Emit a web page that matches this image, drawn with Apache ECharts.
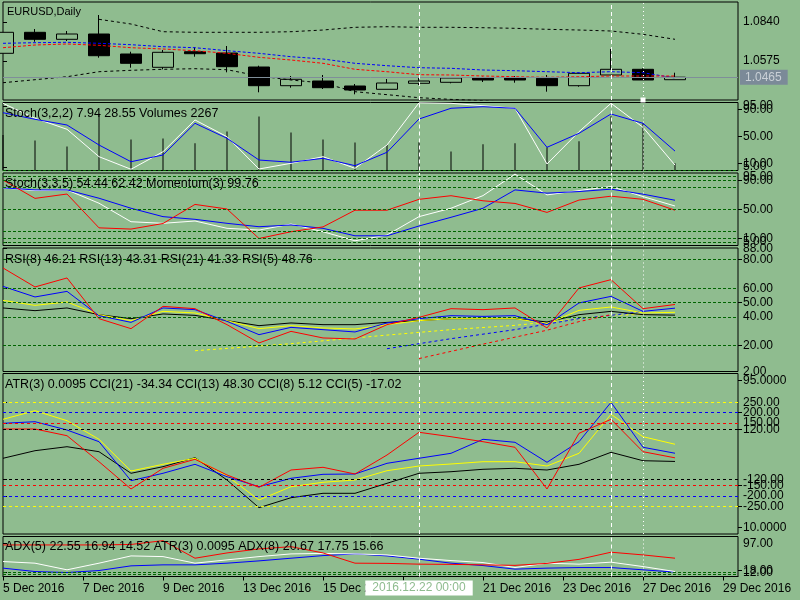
<!DOCTYPE html>
<html><head><meta charset="utf-8">
<script src="https://cdn.jsdelivr.net/npm/echarts@6/dist/echarts.min.js"></script>
<style>html,body{margin:0;padding:0;background:#8FBC8F;}#c{width:800px;height:600px;}</style>
</head><body><div id="c"></div>
<script>
// ---------- data ----------
const openP  = [1.06273,1.07700,1.07225,1.07585,1.06226,1.05322,1.06382,1.06294,1.05342,1.04072,1.04391,1.04051,1.03827,1.04235,1.04303,1.04595,1.04595,1.04574,1.04072,1.04799,1.05186,1.04479];
const closeP = [1.07700,1.07225,1.07585,1.06110,1.05594,1.06341,1.06246,1.05363,1.04072,1.04507,1.03936,1.03780,1.04255,1.04391,1.04595,1.04459,1.04459,1.04072,1.04914,1.05186,1.04459,1.04650];
const lowP   = [1.06273,1.07061,1.07109,1.05974,1.05295,1.05186,1.06042,1.04982,1.03623,1.03936,1.03847,1.03487,1.03827,1.04119,1.04235,1.04323,1.04276,1.03664,1.04004,1.04799,1.04459,1.04479];
const highP  = [1.07700,1.07924,1.07789,1.08876,1.06382,1.06497,1.06681,1.06769,1.05431,1.04731,1.04799,1.04187,1.04527,1.04663,1.04642,1.04683,1.04731,1.04799,1.04955,1.06565,1.05254,1.04955];
const bandUpper = [null,null,null,1.08583,1.08264,1.07741,1.07700,1.07700,1.07700,1.07741,1.07856,1.08040,1.08081,1.08040,1.08040,1.08013,1.07972,1.07904,1.07856,1.07789,1.07564,1.07225];
const bandLower = [1.04275,1.04479,1.04683,1.05023,1.05118,1.05186,1.05227,1.05159,1.04731,1.04459,1.04255,1.03665,1.03462,1.03258,1.03142,1.03054,1.02898,null,null,null,null,null];
const maBlue = [1.06953,1.06994,1.07021,1.06953,1.06858,1.06722,1.06654,1.06450,1.06273,1.06042,1.05886,1.05594,1.05431,1.05295,1.05254,1.05138,1.05091,1.05023,1.04955,1.05023,1.04955,1.04596];
const maRed  = [1.06654,1.06837,1.06905,1.06817,1.06654,1.06565,1.06450,1.06273,1.06001,1.05818,1.05594,1.05186,1.05023,1.04819,1.04799,1.04731,1.04683,1.04642,1.04683,1.04731,1.04731,1.04731];

const volumes = [11000,9300,7440,17570,9600,9900,8460,12090,16740,11780,9600,8680,7970,8770,5890,8150,8460,7220,9080,16830,14660,2267];
const stochAK = [98.8,76.8,60.6,20.3,1.8,27.6,74.3,49.7,2.2,10.6,20.3,3.2,37.5,99.5,98.8,95.3,91.5,9.6,57.1,98.8,63.5,7.94];
const stochAD = [85,75.3,66.9,37.5,12.9,22.8,69.4,47.4,15.4,12.1,17.9,7.1,26.8,75.7,91.5,93.8,91.5,34.1,54.7,83.1,69.4,28.55];

const stochBK = [79.5,75.8,76.7,58.3,32.8,30.6,33.8,23.7,21.3,29.6,19.0,6.5,14.4,39.8,51.4,68.8,98.5,69.8,75.8,81.3,67.5,54.44];
const stochBD = [79.5,76.7,76.7,65.2,51.4,39.8,36.1,30.6,25.9,28.3,23.7,13.4,13.4,26.9,38.9,51.4,76.7,72.2,74.4,77.7,70.8,62.42];
const momentum = [101.01,100.25,100.43,99.03,98.98,99.21,100.00,99.81,98.59,98.87,99.07,99.76,99.76,100.21,100.36,100.15,100.04,99.67,100.18,100.34,100.21,99.76];

const rsi5  = [74.25,60.99,67.27,38.87,31.89,47.45,45.85,34.68,21.91,30.01,25.40,24.70,34.68,39.78,45.85,45.15,46.34,32.38,60.29,66.09,45.85,48.76];
const rsi8  = [61.41,54.01,57.92,40.96,36.29,46.34,45.15,36.99,27.70,32.80,31.19,29.59,35.87,38.87,40.96,40.47,40.96,34.68,49.83,54.43,43.96,46.21];
const rsi13 = [51.64,48.15,50.52,41.66,37.47,43.96,42.85,37.47,31.89,33.98,32.38,31.68,34.68,37.47,38.87,38.87,38.87,35.38,44.66,47.03,42.85,43.31];
const rsi21 = [46.34,44.45,46.34,41.66,38.87,42.15,41.17,37.47,33.98,35.87,34.68,34.68,36.29,37.47,38.87,38.87,38.87,36.57,41.66,43.96,41.66,41.33];
const rsiTrendYellow = [[6,16.5],[9,21.4],[12,27.4],[14,31.2],[16,34.2],[18,38.7],[19,41.3],[20,41.7]];
const rsiTrendBlue   = [[12,17.9],[14,24.9],[16,31.2],[18,38.9],[19,41.2],[20,43.8]];
const rsiTrendRed    = [[13,11.0],[15,21.1],[17,30.8],[18,36.8],[19,41.7]];

const cci21 = [-19.2,17.3,36.5,12.5,-91.3,-59.6,-16.3,-123.6,-256.7,-208.7,-187.5,-187.5,-139.4,-91.3,-83.7,-72.1,-67.3,-75.5,-48.1,9.6,-30.8,-34.34];
const cci13 = [168.3,209.6,161.5,72.1,-80.3,-48.1,-19.2,-104.3,-219.7,-155.8,-134.6,-123.6,-78.8,-56.3,-46.6,-35.6,-35.6,-56.3,4.8,192.3,84.6,48.30];
const cci8  = [149.0,156.7,116.8,60.6,-126.9,-91.3,-48.1,-107.7,-155.8,-115.4,-96.2,-94.7,-43.3,-19.2,4.8,72.1,57.7,-38.5,60.6,250.0,33.7,5.12];
const cci5  = [121.6,121.6,89.4,-35.6,-166.8,-67.3,-24.0,-99.5,-158.7,-75.5,-62.5,-94.7,-3.4,105.8,84.6,60.6,33.7,-166.8,101.0,168.3,12.5,-17.02];

const adxRed   = [92.1,92.1,92.1,92.1,93.5,104.6,53.4,68.8,80.5,87.1,68.8,38.9,38.3,36.0,35.4,34.0,32.5,38.3,50.0,70.9,63.0,53.4];
const adxWhite = [43.6,38.9,19.5,38.9,60.1,58.1,38.9,48.5,58.1,65.9,67.4,65.9,63.0,53.4,46.5,40.7,26.1,38.9,36.0,41.8,29.0,14.5];
const adxBlue  = [24.4,14.5,11.6,17.4,31.1,34.0,34.0,38.9,45.6,53.4,61.0,65.9,60.1,50.5,38.9,31.9,21.5,24.4,26.1,26.1,19.5,12.8];

const timeTickLabels = ['5 Dec 2016','7 Dec 2016','9 Dec 2016','13 Dec 2016','15 Dec 2016','','21 Dec 2016','23 Dec 2016','27 Dec 2016','29 Dec 2016'];
const priceTicks = [1.0840, 1.0575];
const stochTicksA = [95, 80, 20, 5];
const stochTicksB = [90, 50, 10];
const stochLevels = [95, 90, 80, 50, 20, 10, 5];
const rsiTicksA = [88, 60, 40, 2];
const rsiTicksB = [80, 50, 20];
const rsiLevels = [80, 60, 50, 40, 20];
const cciTicksA = [250, 150, -120, -200];
const cciTicksB = [200, 120, -150, -250];
const atrTicks = [95, 10];
const adxTicksA = [97, 12];
const adxTicksB = [18, 6];
const adxLevels = [12, 6];
const cursorBar = 13, cursorTime = '2016.12.22 00:00';
const dashedBars = [13, 19];
const dottedBars = [20];

const titles = [
  'EURUSD,Daily',
  `Stoch(3,2,2) ${stochAK[stochAK.length-1].toFixed(2)} ${stochAD[stochAD.length-1].toFixed(2)} Volumes ${volumes[volumes.length-1]}`,
  `Stoch(3,3,5) ${stochBK[stochBK.length-1].toFixed(2)} ${stochBD[stochBD.length-1].toFixed(2)} Momentum(3) ${momentum[momentum.length-1].toFixed(2)}`,
  `RSI(8) ${rsi8[21].toFixed(2)} RSI(13) ${rsi13[21].toFixed(2)} RSI(21) ${rsi21[21].toFixed(2)} RSI(5) ${rsi5[21].toFixed(2)}`,
  `ATR(3) 0.0095 CCI(21) ${cci21[21].toFixed(2)} CCI(13) ${cci13[21].toFixed(2)} CCI(8) ${cci8[21].toFixed(2)} CCI(5) ${cci5[21].toFixed(2)}`,
  'ADX(5) 22.55 16.94 14.52 ATR(3) 0.0095 ADX(8) 20.67 17.75 15.66'
];

// ---------- chart ----------
const BG = '#8FBC8F', GREEN = '#006400', FONT = 'Liberation Sans';
const XMAX = 735 / 32;
const gridDefs = [[2,98],[102.5,68],[173,72.5],[248,123.5],[373.5,160.5],[536.5,40]];
const grids = gridDefs.map(g => ({left:3, right:62, top:g[0], height:g[1], show:true, borderColor:'#000', borderWidth:1, backgroundColor:'transparent'}));

const xAxes = grids.map((g,i) => ({
  type:'value', gridIndex:i, min:0, max:XMAX, interval:2.5, show: i === 5,
  axisLine:{show:true, lineStyle:{color:'#000'}},
  axisTick:{show:true, length:4, lineStyle:{color:'#000'}},
  splitLine:{show:false},
  axisLabel:{align:'left', margin:6, color:'#000', fontSize:12, fontFamily:FONT, showMinLabel:true, showMaxLabel:false,
    formatter: v => { const j = v/2.5; if (Math.abs(j-Math.round(j))>1e-6) return ''; return timeTickLabels[Math.round(j)] || ''; }}
}));

function yAx(grid, min, max, ticks, digits, show) {
  return {type:'value', gridIndex:grid, position:'right', min, max, show: show !== false,
    axisLine:{show:false}, splitLine:{show:false},
    axisTick:{show:true, length:4, customValues:ticks, lineStyle:{color:'#000'}},
    axisLabel:{customValues:ticks, formatter: v => Number(v).toFixed(digits), color:'#000', margin:5, fontSize:12, fontFamily:FONT,
      showMinLabel:true, showMaxLabel:true, hideOverlap:false}};
}
const yAxes = [
  yAx(0, 1.0310, 1.0976, priceTicks, 4),   // 0
  yAx(1, 0, 100, stochTicksA, 2),          // 1
  yAx(1, 0, 21080, [], 0, false),          // 2 volume
  yAx(2, 0, 100, stochTicksA, 2),          // 3
  yAx(2, 98.3, 101.3, [], 2, false),       // 4 momentum
  yAx(3, 2, 88.18, rsiTicksA, 2),          // 5
  yAx(4, -383.2, 388.5, cciTicksA, 2),     // 6
  yAx(4, 6.12, 99.17, atrTicks, 4),        // 7 ATR labels
  yAx(5, 0, 116.75, adxTicksA, 2),         // 8
  yAx(1, 0, 100, stochTicksB, 2),          // 9  extra label sets
  yAx(2, 0, 100, stochTicksB, 2),          // 10
  yAx(3, 2, 88.18, rsiTicksB, 2),          // 11
  yAx(4, -383.2, 388.5, cciTicksB, 2),     // 12
  yAx(5, 0, 116.75, adxTicksB, 2)          // 13
];

function pts(arr){ const out=[]; arr.forEach((v,i)=>{ if(v!=null) out.push([i,v]); }); return out; }
function ln(xi, yi, data, color, extra) {
  return Object.assign({type:'line', xAxisIndex:xi, yAxisIndex:yi, data, symbol:'none', showSymbol:false,
    lineStyle:{color, width:1}, itemStyle:{color}, silent:true, animation:false, z:3}, extra||{});
}
function vLineItems(){
  return dashedBars.map(b => ({xAxis:b, lineStyle:{color:'#fff', type:[4,3], width:1}}))
    .concat(dottedBars.map(b => ({xAxis:b, lineStyle:{color:'#fff', type:[1,3], width:1}})));
}
function levelItems(levels, color){ return levels.map(v => ({yAxis:v, lineStyle:{color, type:[3,2], width:1}})); }
function mark(items){ return {silent:true, symbol:'none', animation:false, precision:6, label:{show:false}, data:items}; }

const series = [];
// panel 1
series.push({type:'candlestick', xAxisIndex:0, yAxisIndex:0, barWidth:22,
  data: openP.map((o,i)=>[i,o,closeP[i],lowP[i],highP[i]]), encode:{x:0, y:[1,2,3,4]},
  itemStyle:{color:BG, color0:'#000', borderColor:'#000', borderColor0:'#000', borderWidth:1},
  silent:true, animation:false, z:2,
  markLine:{silent:true, symbol:'none', animation:false, precision:6,
    data:[{yAxis: closeP[closeP.length-1], lineStyle:{color:'#7f8e99', type:'solid', width:1},
      label:{show:true, position:'end', distance:2, formatter: p => Number(p.value).toFixed(4),
        backgroundColor:'#7b8a98', color:'#c9d0d6', padding:[2,6,1,5], fontSize:12, fontFamily:FONT}}]}
});
series.push(ln(0,0,pts(bandUpper),'#000',{lineStyle:{color:'#000',width:1,type:[3,3]}}));
series.push(ln(0,0,pts(bandLower),'#000',{lineStyle:{color:'#000',width:1,type:[3,3]}}));
series.push(ln(0,0,pts(maBlue),'#0000ff',{lineStyle:{color:'#0000ff',width:1,type:[3,2]}}));
series.push(ln(0,0,pts(maRed),'#ff0000',{lineStyle:{color:'#ff0000',width:1,type:[3,2]},
  markLine:{silent:true, animation:false, label:{show:false}, symbol:'none', precision:6,
    data: dashedBars.map(b => ({xAxis:b, lineStyle:{color:'#fff', type:[4,3], width:1}}))
      .concat(dottedBars.map(b => ({xAxis:b, symbol:['rect','rect'], symbolSize:5, lineStyle:{color:'#fff', type:[1,3], width:1}})))}}));
// panel 2
series.push({type:'bar', xAxisIndex:1, yAxisIndex:2, barWidth:1, data: pts(volumes), itemStyle:{color:'#000'}, silent:true, animation:false, z:2,
  markLine: mark(levelItems(stochLevels, GREEN).concat(vLineItems()))});
series.push(ln(1,1,pts(stochAK),'#ffffff'));
series.push(ln(1,1,pts(stochAD),'#0000ff'));
// panel 3
series.push(ln(2,3,pts(stochBK),'#ffffff',{markLine: mark(levelItems(stochLevels, GREEN).concat(vLineItems()))}));
series.push(ln(2,3,pts(stochBD),'#0000ff'));
series.push(ln(2,4,pts(momentum),'#ff0000'));
// panel 4
series.push(ln(3,5,rsiTrendYellow,'#ffff00',{lineStyle:{color:'#ffff00',width:1,type:[3,3]}, markLine: mark(levelItems(rsiLevels, GREEN).concat(vLineItems()))}));
series.push(ln(3,5,rsiTrendBlue,'#0000ff',{lineStyle:{color:'#0000ff',width:1,type:[3,3]}}));
series.push(ln(3,5,rsiTrendRed,'#ff0000',{lineStyle:{color:'#ff0000',width:1,type:[3,3]}}));
series.push(ln(3,5,pts(rsi21),'#000000'));
series.push(ln(3,5,pts(rsi13),'#ffff00'));
series.push(ln(3,5,pts(rsi8),'#0000ff'));
series.push(ln(3,5,pts(rsi5),'#ff0000'));
// panel 5
function cciLevels(v, color){ return [{yAxis:v, lineStyle:{color, type:[3,3], width:1}},{yAxis:-v, lineStyle:{color, type:[3,3], width:1}}]; }
series.push(ln(4,6,pts(cci21),'#000000',{markLine: mark(cciLevels(250,'#ffff00').concat(cciLevels(200,'#0000ff'),cciLevels(150,'#ff0000'),cciLevels(120,'#000000'),vLineItems()))}));
series.push(ln(4,6,pts(cci13),'#ffff00'));
series.push(ln(4,6,pts(cci8),'#0000ff'));
series.push(ln(4,6,pts(cci5),'#ff0000'));
// panel 6
series.push(ln(5,8,pts(adxBlue),'#0000ff',{markLine: mark(levelItems(adxLevels, GREEN).concat(vLineItems()))}));
series.push(ln(5,8,pts(adxWhite),'#ffffff'));
series.push(ln(5,8,pts(adxRed),'#ff0000'));

const titleY = [12, 113.5, 183.5, 259.5, 384.5, 546.5];
const titleX = [7, 5, 5, 5, 5, 5];
const titleSize = [11, 12.5, 12.5, 12.5, 12.5, 12.5];
const graphics = titles.map((t,i) => ({id:'t'+i, type:'text', x:titleX[i], y:titleY[i], z:50,
  style:{text:t, fill:'#000', fontSize:titleSize[i], fontFamily:FONT, verticalAlign:'middle'}}));

const chart = echarts.init(document.getElementById('c'));
chart.setOption({
  backgroundColor: BG, animation:false,
  textStyle:{fontFamily:FONT, fontSize:12},
  grid: grids, xAxis: xAxes, yAxis: yAxes, series, graphic: graphics
});
const px = chart.convertToPixel({xAxisIndex:5}, cursorBar);
chart.setOption({graphic: graphics.concat([{id:'tbox', type:'text', x:px, y:588, z:100,
  style:{text:cursorTime, fill:'#8FBC8F', fontSize:12, fontFamily:FONT, align:'center', verticalAlign:'middle',
    backgroundColor:'#ffffff', padding:[2,7,1,7]}}])});
</script>
</body></html>
